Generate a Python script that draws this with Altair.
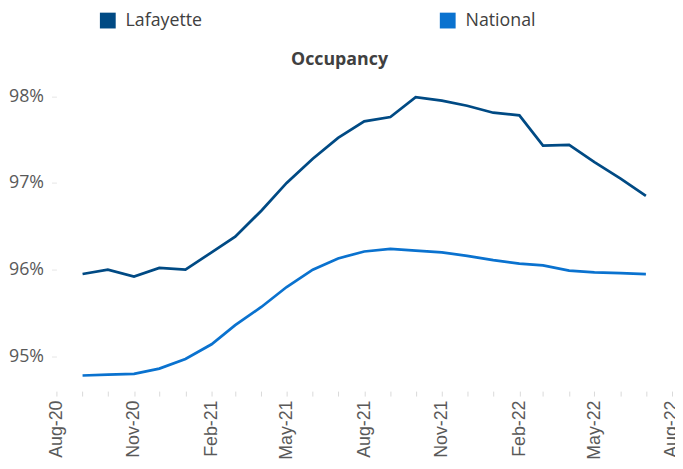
import altair as alt
import pandas as pd

months = ["2020-09-01", "2020-10-01", "2020-11-01", "2020-12-01",
          "2021-01-01", "2021-02-01", "2021-03-01", "2021-04-01",
          "2021-05-01", "2021-06-01", "2021-07-01", "2021-08-01",
          "2021-09-01", "2021-10-01", "2021-11-01", "2021-12-01",
          "2022-01-01", "2022-02-01", "2022-03-01", "2022-04-01",
          "2022-05-01", "2022-06-01", "2022-07-01"]

lafayette = [95.95, 96.00, 95.92, 96.02, 96.00, 96.20, 96.38, 96.68,
             97.00, 97.28, 97.52, 97.71, 97.76, 97.99, 97.95, 97.89,
             97.81, 97.78, 97.43, 97.44, 97.24, 97.05, 96.85]

national = [94.78, 94.79, 94.80, 94.86, 94.97, 95.14, 95.36, 95.57,
            95.80, 96.00, 96.13, 96.21, 96.24, 96.22, 96.20, 96.16,
            96.11, 96.07, 96.05, 95.99, 95.97, 95.96, 95.95]

series = ["Lafayette", "National"]
colors = ["#004A84", "#0A72CF"]
y_ticks = [95, 96, 97, 98]

rows = []
for m, a, b in zip(months, lafayette, national):
    rows.append({"date": m, "series": "Lafayette", "value": a})
    rows.append({"date": m, "series": "National", "value": b})
df = pd.DataFrame(rows)

# monthly tick positions from Aug-20 to Aug-22
tick_dates = []
for i in range(25):
    mm = 8 + i
    yy = 2020 + (mm - 1) // 12
    mo = (mm - 1) % 12 + 1
    tick_dates.append(alt.DateTime(year=yy, month=mo, date=1, utc=True))

x_axis = alt.Axis(
    values=tick_dates,
    labelExpr="utcmonth(datum.value) % 3 == 1 ? utcFormat(datum.value, '%b-%y') : ''",
    labelAngle=270,
    labelFont="Liberation Sans",
    labelFontSize=18,
    labelColor="#595959",
    labelOverlap=False,
    labelPadding=4,
    labelFlush=False,
    ticks=True,
    tickColor="#d9d9d9",
    tickSize=5,
    domain=False,
    grid=False,
    title=None,
)

y_axis = alt.Axis(
    values=y_ticks,
    labelExpr="datum.value + '%'",
    labelFont="Open Sans",
    labelFontSize=18,
    labelColor="#595959",
    labelPadding=8,
    ticks=True,
    tickColor="#e6e6e6",
    tickSize=5,
    domain=False,
    grid=False,
    title=None,
)

chart = alt.Chart(df).mark_line(strokeWidth=2.75).encode(
    x=alt.X("date:T", axis=x_axis,
            scale=alt.Scale(type="utc",
                            domain=[alt.DateTime(year=2020, month=8, date=1, utc=True),
                                    alt.DateTime(year=2022, month=8, date=1, utc=True)])),
    y=alt.Y("value:Q", axis=y_axis,
            scale=alt.Scale(domain=[94.6, 98.2], nice=False, zero=False)),
    color=alt.Color("series:N",
                    scale=alt.Scale(domain=series, range=colors),
                    legend=alt.Legend(
                        orient="none", legendX=43, legendY=-68,
                        direction="horizontal", title=None,
                        symbolType="square", symbolSize=64,
                        symbolStrokeWidth=8, labelOffset=9,
                        labelFont="Open Sans", labelFontSize=18,
                        labelColor="#404040", columnPadding=228,
                        padding=0)),
).properties(
    width=623,
    height=316,
    title=alt.TitleParams("Occupancy", font="Open Sans", fontSize=18,
                          fontWeight="bold", color="#404040",
                          offset=0, dy=58, dx=-25, anchor="middle"),
    autosize=alt.AutoSizeParams(type="none"),
    padding={"left": 49, "top": 69, "right": 3, "bottom": 68},
).configure_view(stroke=None)

chart.save("out.html", embed_options={"renderer": "svg", "actions": False})
